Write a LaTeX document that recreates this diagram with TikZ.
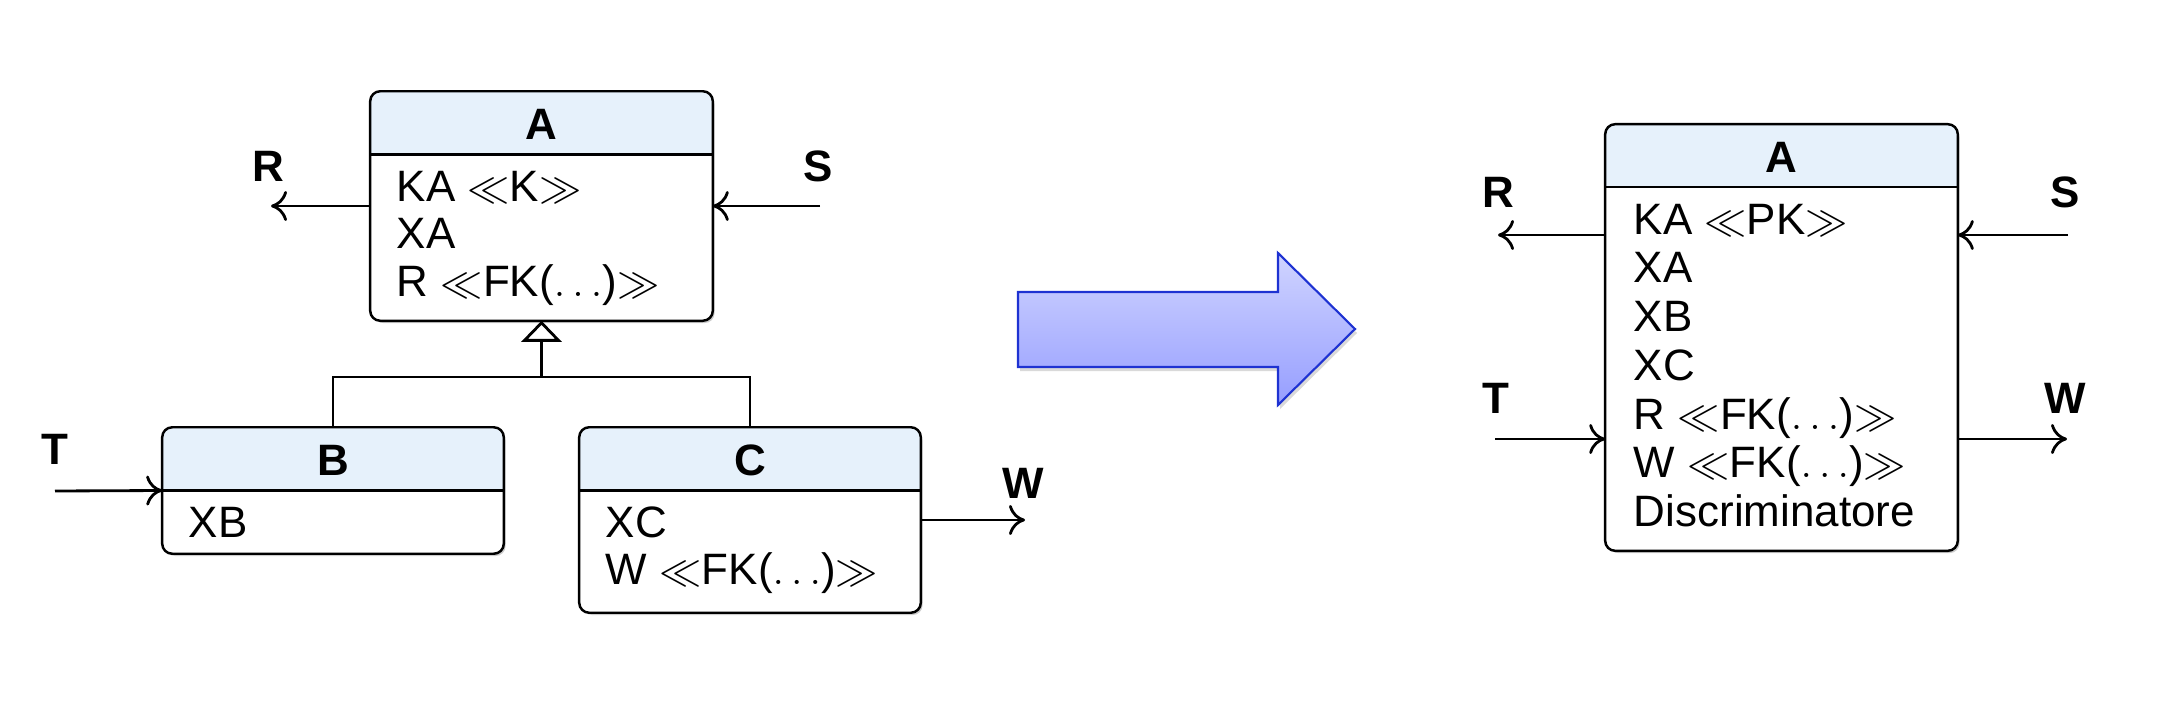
\documentclass[tikz,border=0pt]{standalone}
\usepackage{fontspec}
\setmainfont{Liberation Sans}
\usetikzlibrary{arrows.meta, shadows}

\definecolor{headblue}{RGB}{230,241,251}
\definecolor{arrowtop}{RGB}{208,212,255}
\definecolor{arrowbot}{RGB}{150,158,255}
\definecolor{arrowline}{RGB}{30,50,210}

\tikzset{
  umlbox/.style={rounded corners=0.1cm, fill=white, inner sep=0pt,
    drop shadow={shadow xshift=0.025cm, shadow yshift=-0.03cm, opacity=0.4}},
  boxline/.style={line width=0.7pt, rounded corners=0.1cm},
  title/.style={font=\bfseries\fontsize{12.5}{15}\selectfont, inner sep=0pt},
  attr/.style={anchor=base west, inner sep=0pt, font=\fontsize{12.5}{15}\selectfont},
  lbl/.style={font=\bfseries\fontsize{12.5}{15}\selectfont, inner sep=0pt},
  link/.style={line width=0.8pt, -{Computer Modern Rightarrow[length=0.16cm, width=0.3cm]}},
  inherit/.style={line width=0.8pt, -{Triangle[open, length=0.21cm, width=0.4cm]}},
  bigarrow/.style={draw=arrowline, line width=0.6pt, top color=arrowtop, bottom color=arrowbot,
    drop shadow={shadow xshift=0.02cm, shadow yshift=-0.04cm, opacity=0.3}}
}

\begin{document}
\begin{tikzpicture}[x=0.01cm, y=-0.01cm]
  \useasboundingbox (0,0) rectangle (2166,718);

  % Classes before the transformation
  \node[umlbox, minimum width=3.41cm, minimum height=2.28cm] (A) at (541.5,206) {};
  \node[umlbox, minimum width=3.40cm, minimum height=1.25cm] (B) at (333,490.5) {};
  \node[umlbox, minimum width=3.40cm, minimum height=1.84cm] (C) at (750,520) {};

  % Class after the transformation
  \node[umlbox, minimum width=3.51cm, minimum height=4.25cm] (A2) at (1781.5,337.5) {};

  % Header, divider and border of every class
  \foreach \b in {A,B,C,A2} {
    \begin{scope}
      \clip[rounded corners=0.1cm] (\b.north west) rectangle (\b.south east);
      \fill[headblue] (\b.north west) rectangle ([yshift=-0.63cm]\b.north east);
    \end{scope}
    \draw[line width=0.7pt] ([yshift=-0.63cm]\b.north west) -- ([yshift=-0.63cm]\b.north east);
    \draw[boxline] (\b.north west) rectangle (\b.south east);
  }

  % Class names
  \node[title] (A-t) at ([yshift=-0.33cm]A.north) {A};
  \node[title] (B-t) at ([yshift=-0.33cm]B.north) {B};
  \node[title] (C-t) at ([yshift=-0.33cm]C.north) {C};
  \node[title] (A2-t) at ([yshift=-0.33cm]A2.north) {A};

  % Attributes
  \foreach \t [count=\i] in {KA $\ll$K$\gg$, XA, R $\ll$FK($\ldots$)$\gg$}
    \node[attr] (A-\i) at ([xshift=0.26cm, yshift={-1.1cm-(\i-1)*0.475cm}]A.north west) {\t};
  \node[attr] (B-1) at ([xshift=0.26cm, yshift=-1.1cm]B.north west) {XB};
  \foreach \t [count=\i] in {XC, W $\ll$FK($\ldots$)$\gg$}
    \node[attr] (C-\i) at ([xshift=0.26cm, yshift={-1.1cm-(\i-1)*0.475cm}]C.north west) {\t};
  \foreach \t [count=\i] in {KA $\ll$PK$\gg$, XA, XB, XC, R $\ll$FK($\ldots$)$\gg$,
      W $\ll$FK($\ldots$)$\gg$, Discriminatore}
    \node[attr] (A2-\i) at ([xshift=0.28cm, yshift={-1.1cm-(\i-1)*0.487cm}]A2.north west) {\t};

  % Generalization
  \coordinate (fork) at (A.south |- 0,377);
  \draw[line width=0.8pt] (B.north) |- (fork) -| (C.north);
  \draw[inherit] (fork) -- (A.south);

  % Relationships on the left
  \node[lbl] (lR) at (268,166) {R};
  \node[lbl] (lS) at (818,166) {S};
  \node[lbl] (lT) at (55,449) {T};
  \node[lbl] (lW) at (1023,483) {W};
  \coordinate (eR) at (271,206);
  \coordinate (eS) at (820,206);
  \coordinate (eT) at (55,491);
  \coordinate (eW) at (1025,520);
  \draw[link] (A.west) -- (eR);
  \draw[link] (eS) -- (A.east);
  \draw[link] (eT) -- (B.west);
  \draw[link] (C.east) -- (eW);

  % Transformation arrow
  \draw[bigarrow] (1018,292) -- (1278,292) -- (1278,253) -- (1355,329)
    -- (1278,405) -- (1278,367) -- (1018,367) -- cycle;

  % Relationships on the right
  \node[lbl] (rR) at (1498,192) {R};
  \node[lbl] (rS) at (2065,192) {S};
  \node[lbl] (rT) at (1496,398) {T};
  \node[lbl] (rW) at (2065,398) {W};
  \coordinate (fR) at (1498,235);
  \coordinate (fS) at (2068,235);
  \coordinate (fT) at (1495,439);
  \coordinate (fW) at (2067,439);
  \draw[link] (fR -| A2.west) -- (fR);
  \draw[link] (fS) -- (fS -| A2.east);
  \draw[link] (fT) -- (fT -| A2.west);
  \draw[link] (fW -| A2.east) -- (fW);
\end{tikzpicture}
\end{document}
